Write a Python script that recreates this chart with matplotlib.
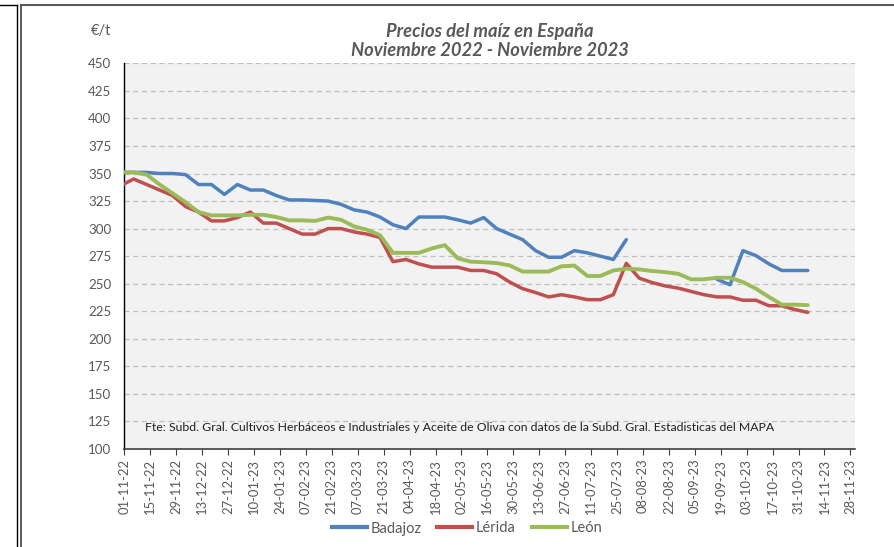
import numpy as np
import pandas as pd
import matplotlib
matplotlib.use("Agg")
import matplotlib.pyplot as plt
import matplotlib.dates as mdates
from matplotlib.lines import Line2D

plt.rcParams['font.family'] = ['Lato', 'DejaVu Sans']

# weekly price dates (first one falls just before the axis start)
dates = pd.date_range("2022-10-30", periods=54, freq="7D")

badajoz = [351, 351, 351, 350, 350, 349, 340, 340, 331, 340, 335, 335, 330, 326, 326,
           325.5, 325, 322, 317, 315, 310.5, 303.5, 300, 310.5, 310.5, 310.5, 308, 305,
           310, 300, 295, 290, 280, 274, 274, 280, 278, 275, 272, 290,
           np.nan, np.nan, np.nan, np.nan, np.nan, np.nan,
           254, 249, 280, 275.5, 268, 262, 262, 262]
lerida = [339, 345, 340, 335, 330, 320, 315, 307, 307, 310, 315, 305, 305, 300, 295,
          295, 300, 300, 297, 295, 292, 270, 272, 268, 265, 265, 265, 262,
          262, 259, 251.5, 245.5, 242, 238, 240, 238, 235.5, 235.5, 240, 268.5,
          255, 251, 248, 246, 243, 240, 238, 238, 235, 235, 230, 230, 226.5, 224]
leon = [351, 351, 349, 340, 332, 324, 315, 312, 312, 312, 312.5, 312.5, 310.5, 307.5, 307.5,
        307, 310, 308, 302, 299, 294, 278, 278, 278, 282, 285, 273, 270,
        269.5, 268.7, 266.6, 261, 261, 261, 265.8, 266.4, 257, 257, 262, 263.6,
        263, 261.5, 260.5, 259, 254, 254, 255.4, 255.4, 251.5, 245.5, 238, 231, 231, 230.5]

series_names = ["Badajoz", "Lérida", "León"]
colors = ["#4F81BD", "#C0504D", "#9BBB59"]

tick_dates = pd.date_range("2022-11-01", "2023-11-28", freq="14D")
y_ticks = list(range(100, 451, 25))

W, H = 895, 547
fig = plt.figure(figsize=(W / 100, H / 100), dpi=100)

left, right, top, bottom = 124.4, 855, 63.3, 449
ax = fig.add_axes([left / W, 1 - bottom / H, (right - left) / W, (bottom - top) / H])
ax.set_facecolor("#F2F2F2")

for vals, name, c in zip([badajoz, lerida, leon], series_names, colors):
    ax.plot(dates, vals, color=c, lw=2.5 if name != "León" else 2.8, label=name,
            solid_capstyle="round", solid_joinstyle="round", zorder=3)

x0 = pd.Timestamp("2022-11-01")
ax.set_xlim(mdates.date2num(x0), mdates.date2num(x0) + 394.5)
ax.set_ylim(100, 450)

ax.set_yticks(y_ticks)
ax.set_yticklabels([str(v) for v in y_ticks])
ax.set_xticks(mdates.date2num(tick_dates))
ax.set_xticklabels([d.strftime("%d-%m-%y") for d in tick_dates], rotation=90)

ax.tick_params(axis="y", length=0, pad=9.5, labelsize=9.6, labelcolor="#595959")
ax.tick_params(axis="x", length=4, width=0.8, color="#404040", pad=3,
               labelsize=9.4, labelcolor="#595959", direction="out")

ax.grid(axis="y", color="#BFBFBF", lw=0.9, ls=(0, (4, 3)), zorder=1)
ax.set_axisbelow(True)
for s in ["top", "right"]:
    ax.spines[s].set_visible(False)
ax.spines["left"].set_color("#000000")
ax.spines["left"].set_linewidth(1.0)
ax.spines["bottom"].set_color("#404040")
ax.spines["bottom"].set_linewidth(1.2)

ax.text(0.028, 0.057,
        "Fte: Subd. Gral. Cultivos Herbáceos e Industriales y Aceite de Oliva con datos de la Subd. Gral. Estadisticas del MAPA",
        transform=ax.transAxes, fontsize=8.85, color="#1f1f1f", ha="left", va="center")

fig.text(490 / W, 1 - 31 / H, "Precios del maíz en España", ha="center", va="center",
         fontsize=13.2, fontweight="bold", style="italic", color="#595959")
fig.text(490 / W, 1 - 50.5 / H, "Noviembre 2022 - Noviembre 2023", ha="center", va="center",
         fontsize=13.2, fontweight="bold", style="italic", color="#595959")
fig.text(101 / W, 1 - 31 / H, "€/t", ha="center", va="center", fontsize=10.5, color="#595959")

handles = [Line2D([], [], color=c, lw=3) for c in colors]
fig.legend(handles, series_names, loc="center", bbox_to_anchor=(467 / W, 1 - 528.5 / H),
           ncol=3, frameon=False, fontsize=10.5, handlelength=2.4, handletextpad=0.25,
           columnspacing=1.1, labelcolor="#595959")

# surrounding frame lines
fig.add_artist(Line2D([17.5 / W, 17.5 / W], [0, 1 - 5 / H], transform=fig.transFigure,
                      color="#000000", lw=1.0))
fig.add_artist(Line2D([0, 17.5 / W], [1 - 5 / H, 1 - 5 / H], transform=fig.transFigure,
                      color="#000000", lw=1.0))
fig.add_artist(Line2D([20.8 / W, 20.8 / W], [0, 1 - 5 / H], transform=fig.transFigure,
                      color="#404040", lw=1.2))
fig.add_artist(Line2D([20.8 / W, 1], [1 - 5 / H, 1 - 5 / H], transform=fig.transFigure,
                      color="#595959", lw=1.5))

fig.savefig("out.png", dpi=100)
